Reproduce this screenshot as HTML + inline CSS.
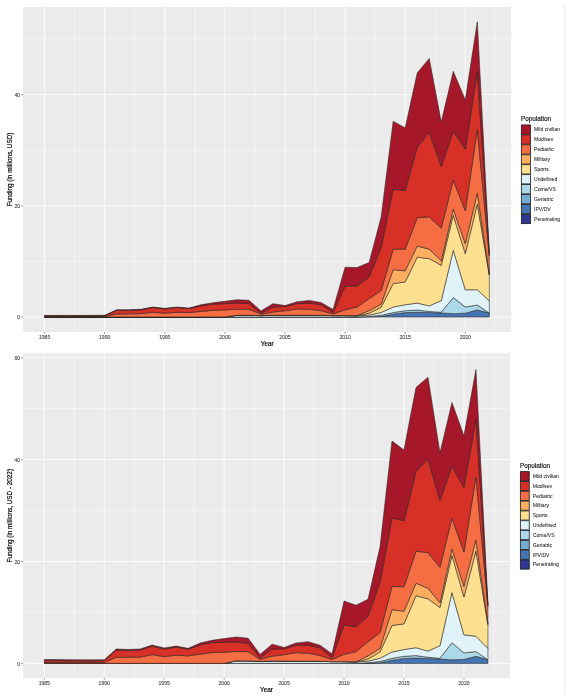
<!DOCTYPE html>
<html><head><meta charset="utf-8"><style>
html,body{margin:0;padding:0;background:#fff;}
body{width:574px;height:699px;overflow:hidden;font-family:"Liberation Sans", sans-serif;}
svg{display:block;will-change:transform;filter:blur(0.4px);}
</style></head><body>
<svg width="574" height="699" viewBox="0 0 574 699" font-family='"Liberation Sans", sans-serif'>
<rect width="574" height="699" fill="#FFF"/>
<line x1="564.6" y1="4" x2="564.6" y2="695" stroke="#EEE" stroke-width="1.4"/>
<rect x="23" y="7" width="488.3" height="325" fill="#EBEBEB"/>
<line x1="74.65" y1="7" x2="74.65" y2="332" stroke="#FFF" stroke-width="0.45"/>
<line x1="134.75" y1="7" x2="134.75" y2="332" stroke="#FFF" stroke-width="0.45"/>
<line x1="194.85" y1="7" x2="194.85" y2="332" stroke="#FFF" stroke-width="0.45"/>
<line x1="254.95" y1="7" x2="254.95" y2="332" stroke="#FFF" stroke-width="0.45"/>
<line x1="315.05" y1="7" x2="315.05" y2="332" stroke="#FFF" stroke-width="0.45"/>
<line x1="375.15" y1="7" x2="375.15" y2="332" stroke="#FFF" stroke-width="0.45"/>
<line x1="435.25" y1="7" x2="435.25" y2="332" stroke="#FFF" stroke-width="0.45"/>
<line x1="495.35" y1="7" x2="495.35" y2="332" stroke="#FFF" stroke-width="0.45"/>
<line x1="23" y1="261.40" x2="511.3" y2="261.40" stroke="#FFF" stroke-width="0.45"/>
<line x1="23" y1="150.20" x2="511.3" y2="150.20" stroke="#FFF" stroke-width="0.45"/>
<line x1="23" y1="39.00" x2="511.3" y2="39.00" stroke="#FFF" stroke-width="0.45"/>
<line x1="44.60" y1="7" x2="44.60" y2="332" stroke="#FFF" stroke-width="0.85"/>
<line x1="104.70" y1="7" x2="104.70" y2="332" stroke="#FFF" stroke-width="0.85"/>
<line x1="164.80" y1="7" x2="164.80" y2="332" stroke="#FFF" stroke-width="0.85"/>
<line x1="224.90" y1="7" x2="224.90" y2="332" stroke="#FFF" stroke-width="0.85"/>
<line x1="285.00" y1="7" x2="285.00" y2="332" stroke="#FFF" stroke-width="0.85"/>
<line x1="345.10" y1="7" x2="345.10" y2="332" stroke="#FFF" stroke-width="0.85"/>
<line x1="405.20" y1="7" x2="405.20" y2="332" stroke="#FFF" stroke-width="0.85"/>
<line x1="465.30" y1="7" x2="465.30" y2="332" stroke="#FFF" stroke-width="0.85"/>
<line x1="23" y1="317.00" x2="511.3" y2="317.00" stroke="#FFF" stroke-width="0.85"/>
<line x1="23" y1="205.80" x2="511.3" y2="205.80" stroke="#FFF" stroke-width="0.85"/>
<line x1="23" y1="94.60" x2="511.3" y2="94.60" stroke="#FFF" stroke-width="0.85"/>
<polygon points="44.60,317.00 56.62,317.00 68.64,317.00 80.66,317.00 92.68,317.00 104.70,317.00 116.72,317.00 128.74,317.00 140.76,317.00 152.78,317.00 164.80,317.00 176.82,317.00 188.84,317.00 200.86,317.00 212.88,317.00 224.90,317.00 236.92,317.00 248.94,317.00 260.96,317.00 272.98,317.00 285.00,317.00 297.02,317.00 309.04,317.00 321.06,317.00 333.08,317.00 345.10,317.00 357.12,317.00 369.14,316.72 381.16,316.44 393.18,314.22 405.20,312.55 417.22,312.27 429.24,312.55 441.26,313.00 453.28,313.66 465.30,313.22 477.32,309.88 489.34,313.11 489.34,317.00 477.32,317.00 465.30,317.00 453.28,317.00 441.26,317.00 429.24,317.00 417.22,317.00 405.20,317.00 393.18,317.00 381.16,317.00 369.14,317.00 357.12,317.00 345.10,317.00 333.08,317.00 321.06,317.00 309.04,317.00 297.02,317.00 285.00,317.00 272.98,317.00 260.96,317.00 248.94,317.00 236.92,317.00 224.90,317.00 212.88,317.00 200.86,317.00 188.84,317.00 176.82,317.00 164.80,317.00 152.78,317.00 140.76,317.00 128.74,317.00 116.72,317.00 104.70,317.00 92.68,317.00 80.66,317.00 68.64,317.00 56.62,317.00 44.60,317.00" fill="#4575B4" stroke="#222" stroke-width="0.55" stroke-linejoin="miter"/>
<polygon points="44.60,317.00 56.62,317.00 68.64,317.00 80.66,317.00 92.68,317.00 104.70,317.00 116.72,317.00 128.74,317.00 140.76,317.00 152.78,317.00 164.80,317.00 176.82,317.00 188.84,317.00 200.86,317.00 212.88,317.00 224.90,317.00 236.92,317.00 248.94,317.00 260.96,317.00 272.98,317.00 285.00,317.00 297.02,317.00 309.04,317.00 321.06,317.00 333.08,317.00 345.10,317.00 357.12,317.00 369.14,316.44 381.16,315.33 393.18,312.55 405.20,310.72 417.22,310.11 429.24,311.44 441.26,312.22 453.28,297.54 465.30,306.99 477.32,305.05 489.34,313.11 489.34,313.11 477.32,309.88 465.30,313.22 453.28,313.66 441.26,313.00 429.24,312.55 417.22,312.27 405.20,312.55 393.18,314.22 381.16,316.44 369.14,316.72 357.12,317.00 345.10,317.00 333.08,317.00 321.06,317.00 309.04,317.00 297.02,317.00 285.00,317.00 272.98,317.00 260.96,317.00 248.94,317.00 236.92,317.00 224.90,317.00 212.88,317.00 200.86,317.00 188.84,317.00 176.82,317.00 164.80,317.00 152.78,317.00 140.76,317.00 128.74,317.00 116.72,317.00 104.70,317.00 92.68,317.00 80.66,317.00 68.64,317.00 56.62,317.00 44.60,317.00" fill="#ABD9E9" stroke="#222" stroke-width="0.55" stroke-linejoin="miter"/>
<polygon points="44.60,317.00 56.62,317.00 68.64,317.00 80.66,317.00 92.68,317.00 104.70,317.00 116.72,317.00 128.74,317.00 140.76,317.00 152.78,317.00 164.80,317.00 176.82,317.00 188.84,317.00 200.86,317.00 212.88,317.00 224.90,317.00 236.92,315.33 248.94,315.33 260.96,315.61 272.98,315.33 285.00,315.33 297.02,315.33 309.04,315.33 321.06,315.33 333.08,315.61 345.10,315.61 357.12,315.89 369.14,315.05 381.16,312.55 393.18,306.99 405.20,304.77 417.22,303.10 429.24,305.88 441.26,300.60 453.28,250.28 465.30,289.76 477.32,289.76 489.34,300.88 489.34,313.11 477.32,305.05 465.30,306.99 453.28,297.54 441.26,312.22 429.24,311.44 417.22,310.11 405.20,310.72 393.18,312.55 381.16,315.33 369.14,316.44 357.12,317.00 345.10,317.00 333.08,317.00 321.06,317.00 309.04,317.00 297.02,317.00 285.00,317.00 272.98,317.00 260.96,317.00 248.94,317.00 236.92,317.00 224.90,317.00 212.88,317.00 200.86,317.00 188.84,317.00 176.82,317.00 164.80,317.00 152.78,317.00 140.76,317.00 128.74,317.00 116.72,317.00 104.70,317.00 92.68,317.00 80.66,317.00 68.64,317.00 56.62,317.00 44.60,317.00" fill="#E0F3F8" stroke="#222" stroke-width="0.55" stroke-linejoin="miter"/>
<polygon points="44.60,317.00 56.62,317.00 68.64,317.00 80.66,317.00 92.68,317.00 104.70,317.00 116.72,317.00 128.74,317.00 140.76,317.00 152.78,317.00 164.80,317.00 176.82,317.00 188.84,317.00 200.86,317.00 212.88,317.00 224.90,317.00 236.92,315.33 248.94,315.33 260.96,315.61 272.98,315.33 285.00,315.33 297.02,315.33 309.04,315.33 321.06,315.33 333.08,315.61 345.10,315.61 357.12,315.89 369.14,313.27 381.16,307.27 393.18,283.64 405.20,281.97 417.22,257.23 429.24,258.62 441.26,265.29 453.28,215.25 465.30,253.62 477.32,204.13 489.34,275.30 489.34,300.88 477.32,289.76 465.30,289.76 453.28,250.28 441.26,300.60 429.24,305.88 417.22,303.10 405.20,304.77 393.18,306.99 381.16,312.55 369.14,315.05 357.12,315.89 345.10,315.61 333.08,315.61 321.06,315.33 309.04,315.33 297.02,315.33 285.00,315.33 272.98,315.33 260.96,315.61 248.94,315.33 236.92,315.33 224.90,317.00 212.88,317.00 200.86,317.00 188.84,317.00 176.82,317.00 164.80,317.00 152.78,317.00 140.76,317.00 128.74,317.00 116.72,317.00 104.70,317.00 92.68,317.00 80.66,317.00 68.64,317.00 56.62,317.00 44.60,317.00" fill="#FEE090" stroke="#222" stroke-width="0.55" stroke-linejoin="miter"/>
<polygon points="44.60,317.00 56.62,317.00 68.64,317.00 80.66,317.00 92.68,317.00 104.70,317.00 116.72,317.00 128.74,317.00 140.76,317.00 152.78,317.00 164.80,317.00 176.82,317.00 188.84,317.00 200.86,317.00 212.88,317.00 224.90,317.00 236.92,315.33 248.94,315.33 260.96,315.61 272.98,315.33 285.00,315.33 297.02,315.33 309.04,315.33 321.06,315.33 333.08,315.61 345.10,315.61 357.12,315.61 369.14,310.61 381.16,304.21 393.18,269.74 405.20,270.85 417.22,246.11 429.24,249.17 441.26,260.84 453.28,209.14 465.30,243.61 477.32,193.01 489.34,274.19 489.34,275.30 477.32,204.13 465.30,253.62 453.28,215.25 441.26,265.29 429.24,258.62 417.22,257.23 405.20,281.97 393.18,283.64 381.16,307.27 369.14,313.27 357.12,315.89 345.10,315.61 333.08,315.61 321.06,315.33 309.04,315.33 297.02,315.33 285.00,315.33 272.98,315.33 260.96,315.61 248.94,315.33 236.92,315.33 224.90,317.00 212.88,317.00 200.86,317.00 188.84,317.00 176.82,317.00 164.80,317.00 152.78,317.00 140.76,317.00 128.74,317.00 116.72,317.00 104.70,317.00 92.68,317.00 80.66,317.00 68.64,317.00 56.62,317.00 44.60,317.00" fill="#FDAE61" stroke="#222" stroke-width="0.55" stroke-linejoin="miter"/>
<polygon points="44.60,316.67 56.62,316.67 68.64,316.67 80.66,316.67 92.68,316.61 104.70,316.56 116.72,313.94 128.74,313.83 140.76,313.66 152.78,312.22 164.80,313.22 176.82,312.27 188.84,312.55 200.86,311.44 212.88,310.33 224.90,309.88 236.92,309.22 248.94,309.22 260.96,314.22 272.98,312.00 285.00,310.72 297.02,308.99 309.04,309.22 321.06,310.72 333.08,313.94 345.10,309.77 357.12,306.99 369.14,298.65 381.16,290.59 393.18,249.17 405.20,249.17 417.22,217.75 429.24,216.92 441.26,228.04 453.28,180.22 465.30,210.80 477.32,129.63 489.34,255.84 489.34,274.19 477.32,193.01 465.30,243.61 453.28,209.14 441.26,260.84 429.24,249.17 417.22,246.11 405.20,270.85 393.18,269.74 381.16,304.21 369.14,310.61 357.12,315.61 345.10,315.61 333.08,315.61 321.06,315.33 309.04,315.33 297.02,315.33 285.00,315.33 272.98,315.33 260.96,315.61 248.94,315.33 236.92,315.33 224.90,317.00 212.88,317.00 200.86,317.00 188.84,317.00 176.82,317.00 164.80,317.00 152.78,317.00 140.76,317.00 128.74,317.00 116.72,317.00 104.70,317.00 92.68,317.00 80.66,317.00 68.64,317.00 56.62,317.00 44.60,317.00" fill="#F46D43" stroke="#222" stroke-width="0.55" stroke-linejoin="miter"/>
<polygon points="44.60,315.89 56.62,315.89 68.64,315.89 80.66,315.89 92.68,315.83 104.70,315.61 116.72,310.33 128.74,310.33 140.76,309.88 152.78,307.55 164.80,308.94 176.82,307.55 188.84,308.66 200.86,305.88 212.88,304.21 224.90,303.66 236.92,303.10 248.94,303.66 260.96,313.22 272.98,306.99 285.00,306.60 297.02,303.66 309.04,303.10 321.06,304.77 333.08,312.55 345.10,286.42 357.12,285.86 369.14,276.97 381.16,247.50 393.18,189.12 405.20,190.51 417.22,147.42 429.24,132.41 441.26,166.32 453.28,131.30 465.30,149.09 477.32,71.80 489.34,254.17 489.34,255.84 477.32,129.63 465.30,210.80 453.28,180.22 441.26,228.04 429.24,216.92 417.22,217.75 405.20,249.17 393.18,249.17 381.16,290.59 369.14,298.65 357.12,306.99 345.10,309.77 333.08,313.94 321.06,310.72 309.04,309.22 297.02,308.99 285.00,310.72 272.98,312.00 260.96,314.22 248.94,309.22 236.92,309.22 224.90,309.88 212.88,310.33 200.86,311.44 188.84,312.55 176.82,312.27 164.80,313.22 152.78,312.22 140.76,313.66 128.74,313.83 116.72,313.94 104.70,316.56 92.68,316.61 80.66,316.67 68.64,316.67 56.62,316.67 44.60,316.67" fill="#D73027" stroke="#222" stroke-width="0.55" stroke-linejoin="miter"/>
<polygon points="44.60,315.44 56.62,315.44 68.64,315.44 80.66,315.44 92.68,315.39 104.70,315.28 116.72,309.77 128.74,309.77 140.76,309.33 152.78,306.99 164.80,308.33 176.82,306.99 188.84,308.10 200.86,304.77 212.88,302.82 224.90,301.27 236.92,299.76 248.94,300.32 260.96,310.88 272.98,303.66 285.00,305.55 297.02,301.82 309.04,300.43 321.06,302.54 333.08,309.49 345.10,267.24 357.12,267.52 369.14,262.51 381.16,216.92 393.18,121.29 405.20,127.96 417.22,72.92 429.24,58.46 441.26,122.12 453.28,71.25 465.30,99.88 477.32,21.76 489.34,252.50 489.34,254.17 477.32,71.80 465.30,149.09 453.28,131.30 441.26,166.32 429.24,132.41 417.22,147.42 405.20,190.51 393.18,189.12 381.16,247.50 369.14,276.97 357.12,285.86 345.10,286.42 333.08,312.55 321.06,304.77 309.04,303.10 297.02,303.66 285.00,306.60 272.98,306.99 260.96,313.22 248.94,303.66 236.92,303.10 224.90,303.66 212.88,304.21 200.86,305.88 188.84,308.66 176.82,307.55 164.80,308.94 152.78,307.55 140.76,309.88 128.74,310.33 116.72,310.33 104.70,315.61 92.68,315.83 80.66,315.89 68.64,315.89 56.62,315.89 44.60,315.89" fill="#A61729" stroke="#222" stroke-width="0.55" stroke-linejoin="miter"/>
<line x1="21.40" y1="317.00" x2="23" y2="317.00" stroke="#333" stroke-width="0.6"/>
<text x="20.10" y="319.30" text-anchor="end" font-size="5.1" fill="#444" stroke="#444" stroke-width="0.1">0</text>
<line x1="21.40" y1="205.80" x2="23" y2="205.80" stroke="#333" stroke-width="0.6"/>
<text x="20.10" y="208.10" text-anchor="end" font-size="5.1" fill="#444" stroke="#444" stroke-width="0.1">20</text>
<line x1="21.40" y1="94.60" x2="23" y2="94.60" stroke="#333" stroke-width="0.6"/>
<text x="20.10" y="96.90" text-anchor="end" font-size="5.1" fill="#444" stroke="#444" stroke-width="0.1">40</text>
<line x1="44.60" y1="332" x2="44.60" y2="333.60" stroke="#333" stroke-width="0.6"/>
<text x="44.60" y="339.20" text-anchor="middle" font-size="5.1" fill="#444" stroke="#444" stroke-width="0.1">1985</text>
<line x1="104.70" y1="332" x2="104.70" y2="333.60" stroke="#333" stroke-width="0.6"/>
<text x="104.70" y="339.20" text-anchor="middle" font-size="5.1" fill="#444" stroke="#444" stroke-width="0.1">1990</text>
<line x1="164.80" y1="332" x2="164.80" y2="333.60" stroke="#333" stroke-width="0.6"/>
<text x="164.80" y="339.20" text-anchor="middle" font-size="5.1" fill="#444" stroke="#444" stroke-width="0.1">1995</text>
<line x1="224.90" y1="332" x2="224.90" y2="333.60" stroke="#333" stroke-width="0.6"/>
<text x="224.90" y="339.20" text-anchor="middle" font-size="5.1" fill="#444" stroke="#444" stroke-width="0.1">2000</text>
<line x1="285.00" y1="332" x2="285.00" y2="333.60" stroke="#333" stroke-width="0.6"/>
<text x="285.00" y="339.20" text-anchor="middle" font-size="5.1" fill="#444" stroke="#444" stroke-width="0.1">2005</text>
<line x1="345.10" y1="332" x2="345.10" y2="333.60" stroke="#333" stroke-width="0.6"/>
<text x="345.10" y="339.20" text-anchor="middle" font-size="5.1" fill="#444" stroke="#444" stroke-width="0.1">2010</text>
<line x1="405.20" y1="332" x2="405.20" y2="333.60" stroke="#333" stroke-width="0.6"/>
<text x="405.20" y="339.20" text-anchor="middle" font-size="5.1" fill="#444" stroke="#444" stroke-width="0.1">2015</text>
<line x1="465.30" y1="332" x2="465.30" y2="333.60" stroke="#333" stroke-width="0.6"/>
<text x="465.30" y="339.20" text-anchor="middle" font-size="5.1" fill="#444" stroke="#444" stroke-width="0.1">2020</text>
<text x="267.15" y="346.2" text-anchor="middle" font-size="6.35" fill="#000" stroke="#000" stroke-width="0.18">Year</text>
<text transform="translate(11.5,169.50) rotate(-90)" text-anchor="middle" font-size="6.35" fill="#000" stroke="#000" stroke-width="0.18">Funding (in millions, USD)</text>
<text x="521" y="120.8" font-size="6.35" fill="#000" stroke="#000" stroke-width="0.12">Population</text>
<rect x="521.35" y="124.95" width="9.10" height="9.24" fill="#A81629" stroke="#1a1a1a" stroke-width="0.8"/>
<text x="534.00" y="131.37" font-size="5.1" fill="#1a1a1a" stroke="#1a1a1a" stroke-width="0.04">Mild civilian</text>
<rect x="521.35" y="134.89" width="9.10" height="9.24" fill="#D73027" stroke="#1a1a1a" stroke-width="0.8"/>
<text x="534.00" y="141.31" font-size="5.1" fill="#1a1a1a" stroke="#1a1a1a" stroke-width="0.04">Mod/sev</text>
<rect x="521.35" y="144.83" width="9.10" height="9.24" fill="#F46D43" stroke="#1a1a1a" stroke-width="0.8"/>
<text x="534.00" y="151.25" font-size="5.1" fill="#1a1a1a" stroke="#1a1a1a" stroke-width="0.04">Pediatric</text>
<rect x="521.35" y="154.77" width="9.10" height="9.24" fill="#FDAE61" stroke="#1a1a1a" stroke-width="0.8"/>
<text x="534.00" y="161.19" font-size="5.1" fill="#1a1a1a" stroke="#1a1a1a" stroke-width="0.04">Military</text>
<rect x="521.35" y="164.71" width="9.10" height="9.24" fill="#FEE090" stroke="#1a1a1a" stroke-width="0.8"/>
<text x="534.00" y="171.13" font-size="5.1" fill="#1a1a1a" stroke="#1a1a1a" stroke-width="0.04">Sports</text>
<rect x="521.35" y="174.65" width="9.10" height="9.24" fill="#E0F3F8" stroke="#1a1a1a" stroke-width="0.8"/>
<text x="534.00" y="181.07" font-size="5.1" fill="#1a1a1a" stroke="#1a1a1a" stroke-width="0.04">Undefined</text>
<rect x="521.35" y="184.59" width="9.10" height="9.24" fill="#ABD9E9" stroke="#1a1a1a" stroke-width="0.8"/>
<text x="534.00" y="191.01" font-size="5.1" fill="#1a1a1a" stroke="#1a1a1a" stroke-width="0.04">Coma/VS</text>
<rect x="521.35" y="194.53" width="9.10" height="9.24" fill="#74ADD1" stroke="#1a1a1a" stroke-width="0.8"/>
<text x="534.00" y="200.95" font-size="5.1" fill="#1a1a1a" stroke="#1a1a1a" stroke-width="0.04">Geriatric</text>
<rect x="521.35" y="204.47" width="9.10" height="9.24" fill="#4575B4" stroke="#1a1a1a" stroke-width="0.8"/>
<text x="534.00" y="210.89" font-size="5.1" fill="#1a1a1a" stroke="#1a1a1a" stroke-width="0.04">IPV/DV</text>
<rect x="521.35" y="214.41" width="9.10" height="9.24" fill="#313695" stroke="#1a1a1a" stroke-width="0.8"/>
<text x="534.00" y="220.83" font-size="5.1" fill="#1a1a1a" stroke="#1a1a1a" stroke-width="0.04">Penetrating</text>
<rect x="23" y="353.4" width="487" height="324.6" fill="#EBEBEB"/>
<line x1="74.28" y1="353.4" x2="74.28" y2="678" stroke="#FFF" stroke-width="0.45"/>
<line x1="134.22" y1="353.4" x2="134.22" y2="678" stroke="#FFF" stroke-width="0.45"/>
<line x1="194.18" y1="353.4" x2="194.18" y2="678" stroke="#FFF" stroke-width="0.45"/>
<line x1="254.12" y1="353.4" x2="254.12" y2="678" stroke="#FFF" stroke-width="0.45"/>
<line x1="314.07" y1="353.4" x2="314.07" y2="678" stroke="#FFF" stroke-width="0.45"/>
<line x1="374.03" y1="353.4" x2="374.03" y2="678" stroke="#FFF" stroke-width="0.45"/>
<line x1="433.98" y1="353.4" x2="433.98" y2="678" stroke="#FFF" stroke-width="0.45"/>
<line x1="493.93" y1="353.4" x2="493.93" y2="678" stroke="#FFF" stroke-width="0.45"/>
<line x1="23" y1="612.46" x2="510" y2="612.46" stroke="#FFF" stroke-width="0.45"/>
<line x1="23" y1="510.58" x2="510" y2="510.58" stroke="#FFF" stroke-width="0.45"/>
<line x1="23" y1="408.70" x2="510" y2="408.70" stroke="#FFF" stroke-width="0.45"/>
<line x1="44.30" y1="353.4" x2="44.30" y2="678" stroke="#FFF" stroke-width="0.85"/>
<line x1="104.25" y1="353.4" x2="104.25" y2="678" stroke="#FFF" stroke-width="0.85"/>
<line x1="164.20" y1="353.4" x2="164.20" y2="678" stroke="#FFF" stroke-width="0.85"/>
<line x1="224.15" y1="353.4" x2="224.15" y2="678" stroke="#FFF" stroke-width="0.85"/>
<line x1="284.10" y1="353.4" x2="284.10" y2="678" stroke="#FFF" stroke-width="0.85"/>
<line x1="344.05" y1="353.4" x2="344.05" y2="678" stroke="#FFF" stroke-width="0.85"/>
<line x1="404.00" y1="353.4" x2="404.00" y2="678" stroke="#FFF" stroke-width="0.85"/>
<line x1="463.95" y1="353.4" x2="463.95" y2="678" stroke="#FFF" stroke-width="0.85"/>
<line x1="23" y1="663.40" x2="510" y2="663.40" stroke="#FFF" stroke-width="0.85"/>
<line x1="23" y1="561.52" x2="510" y2="561.52" stroke="#FFF" stroke-width="0.85"/>
<line x1="23" y1="459.64" x2="510" y2="459.64" stroke="#FFF" stroke-width="0.85"/>
<line x1="23" y1="357.76" x2="510" y2="357.76" stroke="#FFF" stroke-width="0.85"/>
<polygon points="44.30,663.40 56.29,663.40 68.28,663.40 80.27,663.40 92.26,663.40 104.25,663.40 116.24,663.40 128.23,663.40 140.22,663.40 152.21,663.40 164.20,663.40 176.19,663.40 188.18,663.40 200.17,663.40 212.16,663.40 224.15,663.40 236.14,663.40 248.13,663.40 260.12,663.40 272.11,663.40 284.10,663.40 296.09,663.40 308.08,663.40 320.07,663.40 332.06,663.40 344.05,663.40 356.04,663.40 368.03,663.07 380.02,662.75 392.01,660.24 404.00,658.38 415.99,658.06 427.98,658.48 439.97,659.07 451.96,659.86 463.95,659.44 475.94,656.32 487.93,659.79 487.93,663.40 475.94,663.40 463.95,663.40 451.96,663.40 439.97,663.40 427.98,663.40 415.99,663.40 404.00,663.40 392.01,663.40 380.02,663.40 368.03,663.40 356.04,663.40 344.05,663.40 332.06,663.40 320.07,663.40 308.08,663.40 296.09,663.40 284.10,663.40 272.11,663.40 260.12,663.40 248.13,663.40 236.14,663.40 224.15,663.40 212.16,663.40 200.17,663.40 188.18,663.40 176.19,663.40 164.20,663.40 152.21,663.40 140.22,663.40 128.23,663.40 116.24,663.40 104.25,663.40 92.26,663.40 80.27,663.40 68.28,663.40 56.29,663.40 44.30,663.40" fill="#4575B4" stroke="#222" stroke-width="0.55" stroke-linejoin="miter"/>
<polygon points="44.30,663.40 56.29,663.40 68.28,663.40 80.27,663.40 92.26,663.40 104.25,663.40 116.24,663.40 128.23,663.40 140.22,663.40 152.21,663.40 164.20,663.40 176.19,663.40 188.18,663.40 200.17,663.40 212.16,663.40 224.15,663.40 236.14,663.40 248.13,663.40 260.12,663.40 272.11,663.40 284.10,663.40 296.09,663.40 308.08,663.40 320.07,663.40 332.06,663.40 344.05,663.40 356.04,663.40 368.03,662.74 380.02,661.46 392.01,658.35 404.00,656.31 415.99,655.61 427.98,657.25 439.97,658.23 451.96,642.75 463.95,652.91 475.94,651.50 487.93,659.79 487.93,659.79 475.94,656.32 463.95,659.44 451.96,659.86 439.97,659.07 427.98,658.48 415.99,658.06 404.00,658.38 392.01,660.24 380.02,662.75 368.03,663.07 356.04,663.40 344.05,663.40 332.06,663.40 320.07,663.40 308.08,663.40 296.09,663.40 284.10,663.40 272.11,663.40 260.12,663.40 248.13,663.40 236.14,663.40 224.15,663.40 212.16,663.40 200.17,663.40 188.18,663.40 176.19,663.40 164.20,663.40 152.21,663.40 140.22,663.40 128.23,663.40 116.24,663.40 104.25,663.40 92.26,663.40 80.27,663.40 68.28,663.40 56.29,663.40 44.30,663.40" fill="#ABD9E9" stroke="#222" stroke-width="0.55" stroke-linejoin="miter"/>
<polygon points="44.30,663.40 56.29,663.40 68.28,663.40 80.27,663.40 92.26,663.40 104.25,663.40 116.24,663.40 128.23,663.40 140.22,663.40 152.21,663.40 164.20,663.40 176.19,663.40 188.18,663.40 200.17,663.40 212.16,663.40 224.15,663.40 236.14,660.84 248.13,660.88 260.12,661.35 272.11,661.00 284.10,661.08 296.09,661.15 308.08,661.22 320.07,661.30 332.06,661.64 344.05,661.66 356.04,662.09 368.03,661.10 380.02,658.22 392.01,652.03 404.00,649.59 415.99,647.69 427.98,651.09 439.97,645.68 451.96,592.59 463.95,634.84 475.94,636.28 487.93,648.45 487.93,659.79 475.94,651.50 463.95,652.91 451.96,642.75 439.97,658.23 427.98,657.25 415.99,655.61 404.00,656.31 392.01,658.35 380.02,661.46 368.03,662.74 356.04,663.40 344.05,663.40 332.06,663.40 320.07,663.40 308.08,663.40 296.09,663.40 284.10,663.40 272.11,663.40 260.12,663.40 248.13,663.40 236.14,663.40 224.15,663.40 212.16,663.40 200.17,663.40 188.18,663.40 176.19,663.40 164.20,663.40 152.21,663.40 140.22,663.40 128.23,663.40 116.24,663.40 104.25,663.40 92.26,663.40 80.27,663.40 68.28,663.40 56.29,663.40 44.30,663.40" fill="#E0F3F8" stroke="#222" stroke-width="0.55" stroke-linejoin="miter"/>
<polygon points="44.30,663.40 56.29,663.40 68.28,663.40 80.27,663.40 92.26,663.40 104.25,663.40 116.24,663.40 128.23,663.40 140.22,663.40 152.21,663.40 164.20,663.40 176.19,663.40 188.18,663.40 200.17,663.40 212.16,663.40 224.15,663.40 236.14,660.84 248.13,660.88 260.12,661.35 272.11,661.00 284.10,661.08 296.09,661.15 308.08,661.22 320.07,661.30 332.06,661.64 344.05,661.66 356.04,662.09 368.03,659.01 380.02,652.07 392.01,625.50 404.00,623.85 415.99,595.83 427.98,598.77 439.97,607.52 451.96,555.41 463.95,596.95 475.94,551.05 487.93,624.74 487.93,648.45 475.94,636.28 463.95,634.84 451.96,592.59 439.97,645.68 427.98,651.09 415.99,647.69 404.00,649.59 392.01,652.03 380.02,658.22 368.03,661.10 356.04,662.09 344.05,661.66 332.06,661.64 320.07,661.30 308.08,661.22 296.09,661.15 284.10,661.08 272.11,661.00 260.12,661.35 248.13,660.88 236.14,660.84 224.15,663.40 212.16,663.40 200.17,663.40 188.18,663.40 176.19,663.40 164.20,663.40 152.21,663.40 140.22,663.40 128.23,663.40 116.24,663.40 104.25,663.40 92.26,663.40 80.27,663.40 68.28,663.40 56.29,663.40 44.30,663.40" fill="#FEE090" stroke="#222" stroke-width="0.55" stroke-linejoin="miter"/>
<polygon points="44.30,663.40 56.29,663.40 68.28,663.40 80.27,663.40 92.26,663.40 104.25,663.40 116.24,663.40 128.23,663.40 140.22,663.40 152.21,663.40 164.20,663.40 176.19,663.40 188.18,663.40 200.17,663.40 212.16,663.40 224.15,663.40 236.14,660.84 248.13,660.88 260.12,661.35 272.11,661.00 284.10,661.08 296.09,661.15 308.08,661.22 320.07,661.30 332.06,661.64 344.05,661.66 356.04,661.77 368.03,655.86 380.02,648.50 392.01,609.71 404.00,611.30 415.99,583.25 427.98,588.31 439.97,602.72 451.96,548.92 463.95,586.45 475.94,539.98 487.93,623.71 487.93,624.74 475.94,551.05 463.95,596.95 451.96,555.41 439.97,607.52 427.98,598.77 415.99,595.83 404.00,623.85 392.01,625.50 380.02,652.07 368.03,659.01 356.04,662.09 344.05,661.66 332.06,661.64 320.07,661.30 308.08,661.22 296.09,661.15 284.10,661.08 272.11,661.00 260.12,661.35 248.13,660.88 236.14,660.84 224.15,663.40 212.16,663.40 200.17,663.40 188.18,663.40 176.19,663.40 164.20,663.40 152.21,663.40 140.22,663.40 128.23,663.40 116.24,663.40 104.25,663.40 92.26,663.40 80.27,663.40 68.28,663.40 56.29,663.40 44.30,663.40" fill="#FDAE61" stroke="#222" stroke-width="0.55" stroke-linejoin="miter"/>
<polygon points="44.30,662.56 56.29,662.57 68.28,662.60 80.27,662.63 92.26,662.55 104.25,662.48 116.24,657.31 128.23,657.27 140.22,657.14 152.21,654.65 164.20,656.67 176.19,655.23 188.18,655.88 200.17,654.14 212.16,652.53 224.15,652.19 236.14,651.47 248.13,651.66 260.12,659.30 272.11,656.21 284.10,654.67 296.09,652.62 308.08,653.21 320.07,655.48 332.06,659.53 344.05,654.33 356.04,651.65 368.03,641.76 380.02,632.64 392.01,586.34 404.00,586.82 415.99,551.20 427.98,552.61 439.97,567.27 451.96,518.23 463.95,552.06 475.94,476.88 487.93,606.69 487.93,623.71 475.94,539.98 463.95,586.45 451.96,548.92 439.97,602.72 427.98,588.31 415.99,583.25 404.00,611.30 392.01,609.71 380.02,648.50 368.03,655.86 356.04,661.77 344.05,661.66 332.06,661.64 320.07,661.30 308.08,661.22 296.09,661.15 284.10,661.08 272.11,661.00 260.12,661.35 248.13,660.88 236.14,660.84 224.15,663.40 212.16,663.40 200.17,663.40 188.18,663.40 176.19,663.40 164.20,663.40 152.21,663.40 140.22,663.40 128.23,663.40 116.24,663.40 104.25,663.40 92.26,663.40 80.27,663.40 68.28,663.40 56.29,663.40 44.30,663.40" fill="#F46D43" stroke="#222" stroke-width="0.55" stroke-linejoin="miter"/>
<polygon points="44.30,660.60 56.29,660.65 68.28,660.74 80.27,660.85 92.26,660.84 104.25,660.51 116.24,650.11 128.23,650.50 140.22,650.04 152.21,646.09 164.20,649.05 176.19,647.05 188.18,649.30 200.17,644.89 212.16,642.57 224.15,642.37 236.14,642.10 248.13,643.27 260.12,657.82 272.11,649.02 284.10,648.95 296.09,645.44 308.08,645.21 320.07,647.98 332.06,657.77 344.05,625.05 356.04,626.84 368.03,616.18 380.02,582.45 392.01,518.13 404.00,520.59 415.99,471.68 427.98,459.06 439.97,500.58 451.96,466.30 463.95,487.36 475.94,419.32 487.93,605.15 487.93,606.69 475.94,476.88 463.95,552.06 451.96,518.23 439.97,567.27 427.98,552.61 415.99,551.20 404.00,586.82 392.01,586.34 380.02,632.64 368.03,641.76 356.04,651.65 344.05,654.33 332.06,659.53 320.07,655.48 308.08,653.21 296.09,652.62 284.10,654.67 272.11,656.21 260.12,659.30 248.13,651.66 236.14,651.47 224.15,652.19 212.16,652.53 200.17,654.14 188.18,655.88 176.19,655.23 164.20,656.67 152.21,654.65 140.22,657.14 128.23,657.27 116.24,657.31 104.25,662.48 92.26,662.55 80.27,662.63 68.28,662.60 56.29,662.57 44.30,662.56" fill="#D73027" stroke="#222" stroke-width="0.55" stroke-linejoin="miter"/>
<polygon points="44.30,659.47 56.29,659.55 68.28,659.68 80.27,659.83 92.26,659.87 104.25,659.82 116.24,649.00 128.23,649.42 140.22,648.99 152.21,645.08 164.20,647.96 176.19,646.09 188.18,648.36 200.17,643.04 212.16,640.31 224.15,638.61 236.14,636.99 248.13,638.24 260.12,654.38 272.11,644.23 284.10,647.49 296.09,642.97 308.08,641.72 320.07,645.18 332.06,653.91 344.05,600.99 356.04,605.30 368.03,599.13 380.02,546.83 392.01,441.07 404.00,449.98 415.99,387.45 427.98,377.20 439.97,452.82 451.96,402.57 463.95,435.77 475.94,369.51 487.93,603.60 487.93,605.15 475.94,419.32 463.95,487.36 451.96,466.30 439.97,500.58 427.98,459.06 415.99,471.68 404.00,520.59 392.01,518.13 380.02,582.45 368.03,616.18 356.04,626.84 344.05,625.05 332.06,657.77 320.07,647.98 308.08,645.21 296.09,645.44 284.10,648.95 272.11,649.02 260.12,657.82 248.13,643.27 236.14,642.10 224.15,642.37 212.16,642.57 200.17,644.89 188.18,649.30 176.19,647.05 164.20,649.05 152.21,646.09 140.22,650.04 128.23,650.50 116.24,650.11 104.25,660.51 92.26,660.84 80.27,660.85 68.28,660.74 56.29,660.65 44.30,660.60" fill="#A61729" stroke="#222" stroke-width="0.55" stroke-linejoin="miter"/>
<line x1="21.40" y1="663.40" x2="23" y2="663.40" stroke="#333" stroke-width="0.6"/>
<text x="20.10" y="665.70" text-anchor="end" font-size="5.1" fill="#444" stroke="#444" stroke-width="0.1">0</text>
<line x1="21.40" y1="561.52" x2="23" y2="561.52" stroke="#333" stroke-width="0.6"/>
<text x="20.10" y="563.82" text-anchor="end" font-size="5.1" fill="#444" stroke="#444" stroke-width="0.1">20</text>
<line x1="21.40" y1="459.64" x2="23" y2="459.64" stroke="#333" stroke-width="0.6"/>
<text x="20.10" y="461.94" text-anchor="end" font-size="5.1" fill="#444" stroke="#444" stroke-width="0.1">40</text>
<line x1="21.40" y1="357.76" x2="23" y2="357.76" stroke="#333" stroke-width="0.6"/>
<text x="20.10" y="360.06" text-anchor="end" font-size="5.1" fill="#444" stroke="#444" stroke-width="0.1">60</text>
<line x1="44.30" y1="678" x2="44.30" y2="679.60" stroke="#333" stroke-width="0.6"/>
<text x="44.30" y="685.20" text-anchor="middle" font-size="5.1" fill="#444" stroke="#444" stroke-width="0.1">1985</text>
<line x1="104.25" y1="678" x2="104.25" y2="679.60" stroke="#333" stroke-width="0.6"/>
<text x="104.25" y="685.20" text-anchor="middle" font-size="5.1" fill="#444" stroke="#444" stroke-width="0.1">1990</text>
<line x1="164.20" y1="678" x2="164.20" y2="679.60" stroke="#333" stroke-width="0.6"/>
<text x="164.20" y="685.20" text-anchor="middle" font-size="5.1" fill="#444" stroke="#444" stroke-width="0.1">1995</text>
<line x1="224.15" y1="678" x2="224.15" y2="679.60" stroke="#333" stroke-width="0.6"/>
<text x="224.15" y="685.20" text-anchor="middle" font-size="5.1" fill="#444" stroke="#444" stroke-width="0.1">2000</text>
<line x1="284.10" y1="678" x2="284.10" y2="679.60" stroke="#333" stroke-width="0.6"/>
<text x="284.10" y="685.20" text-anchor="middle" font-size="5.1" fill="#444" stroke="#444" stroke-width="0.1">2005</text>
<line x1="344.05" y1="678" x2="344.05" y2="679.60" stroke="#333" stroke-width="0.6"/>
<text x="344.05" y="685.20" text-anchor="middle" font-size="5.1" fill="#444" stroke="#444" stroke-width="0.1">2010</text>
<line x1="404.00" y1="678" x2="404.00" y2="679.60" stroke="#333" stroke-width="0.6"/>
<text x="404.00" y="685.20" text-anchor="middle" font-size="5.1" fill="#444" stroke="#444" stroke-width="0.1">2015</text>
<line x1="463.95" y1="678" x2="463.95" y2="679.60" stroke="#333" stroke-width="0.6"/>
<text x="463.95" y="685.20" text-anchor="middle" font-size="5.1" fill="#444" stroke="#444" stroke-width="0.1">2020</text>
<text x="266.50" y="692.2" text-anchor="middle" font-size="6.35" fill="#000" stroke="#000" stroke-width="0.18">Year</text>
<text transform="translate(11.5,515.70) rotate(-90)" text-anchor="middle" font-size="6.35" fill="#000" stroke="#000" stroke-width="0.18">Funding (in millions, USD - 2022)</text>
<text x="520" y="467.5" font-size="6.35" fill="#000" stroke="#000" stroke-width="0.12">Population</text>
<rect x="520.35" y="471.65" width="8.90" height="9.12" fill="#A81629" stroke="#1a1a1a" stroke-width="0.8"/>
<text x="532.80" y="478.01" font-size="5.1" fill="#1a1a1a" stroke="#1a1a1a" stroke-width="0.04">Mild civilian</text>
<rect x="520.35" y="481.47" width="8.90" height="9.12" fill="#D73027" stroke="#1a1a1a" stroke-width="0.8"/>
<text x="532.80" y="487.83" font-size="5.1" fill="#1a1a1a" stroke="#1a1a1a" stroke-width="0.04">Mod/sev</text>
<rect x="520.35" y="491.29" width="8.90" height="9.12" fill="#F46D43" stroke="#1a1a1a" stroke-width="0.8"/>
<text x="532.80" y="497.65" font-size="5.1" fill="#1a1a1a" stroke="#1a1a1a" stroke-width="0.04">Pediatric</text>
<rect x="520.35" y="501.11" width="8.90" height="9.12" fill="#FDAE61" stroke="#1a1a1a" stroke-width="0.8"/>
<text x="532.80" y="507.47" font-size="5.1" fill="#1a1a1a" stroke="#1a1a1a" stroke-width="0.04">Military</text>
<rect x="520.35" y="510.93" width="8.90" height="9.12" fill="#FEE090" stroke="#1a1a1a" stroke-width="0.8"/>
<text x="532.80" y="517.29" font-size="5.1" fill="#1a1a1a" stroke="#1a1a1a" stroke-width="0.04">Sports</text>
<rect x="520.35" y="520.75" width="8.90" height="9.12" fill="#E0F3F8" stroke="#1a1a1a" stroke-width="0.8"/>
<text x="532.80" y="527.11" font-size="5.1" fill="#1a1a1a" stroke="#1a1a1a" stroke-width="0.04">Undefined</text>
<rect x="520.35" y="530.57" width="8.90" height="9.12" fill="#ABD9E9" stroke="#1a1a1a" stroke-width="0.8"/>
<text x="532.80" y="536.93" font-size="5.1" fill="#1a1a1a" stroke="#1a1a1a" stroke-width="0.04">Coma/VS</text>
<rect x="520.35" y="540.39" width="8.90" height="9.12" fill="#74ADD1" stroke="#1a1a1a" stroke-width="0.8"/>
<text x="532.80" y="546.75" font-size="5.1" fill="#1a1a1a" stroke="#1a1a1a" stroke-width="0.04">Geriatric</text>
<rect x="520.35" y="550.21" width="8.90" height="9.12" fill="#4575B4" stroke="#1a1a1a" stroke-width="0.8"/>
<text x="532.80" y="556.57" font-size="5.1" fill="#1a1a1a" stroke="#1a1a1a" stroke-width="0.04">IPV/DV</text>
<rect x="520.35" y="560.03" width="8.90" height="9.12" fill="#313695" stroke="#1a1a1a" stroke-width="0.8"/>
<text x="532.80" y="566.39" font-size="5.1" fill="#1a1a1a" stroke="#1a1a1a" stroke-width="0.04">Penetrating</text>
</svg>
</body></html>
